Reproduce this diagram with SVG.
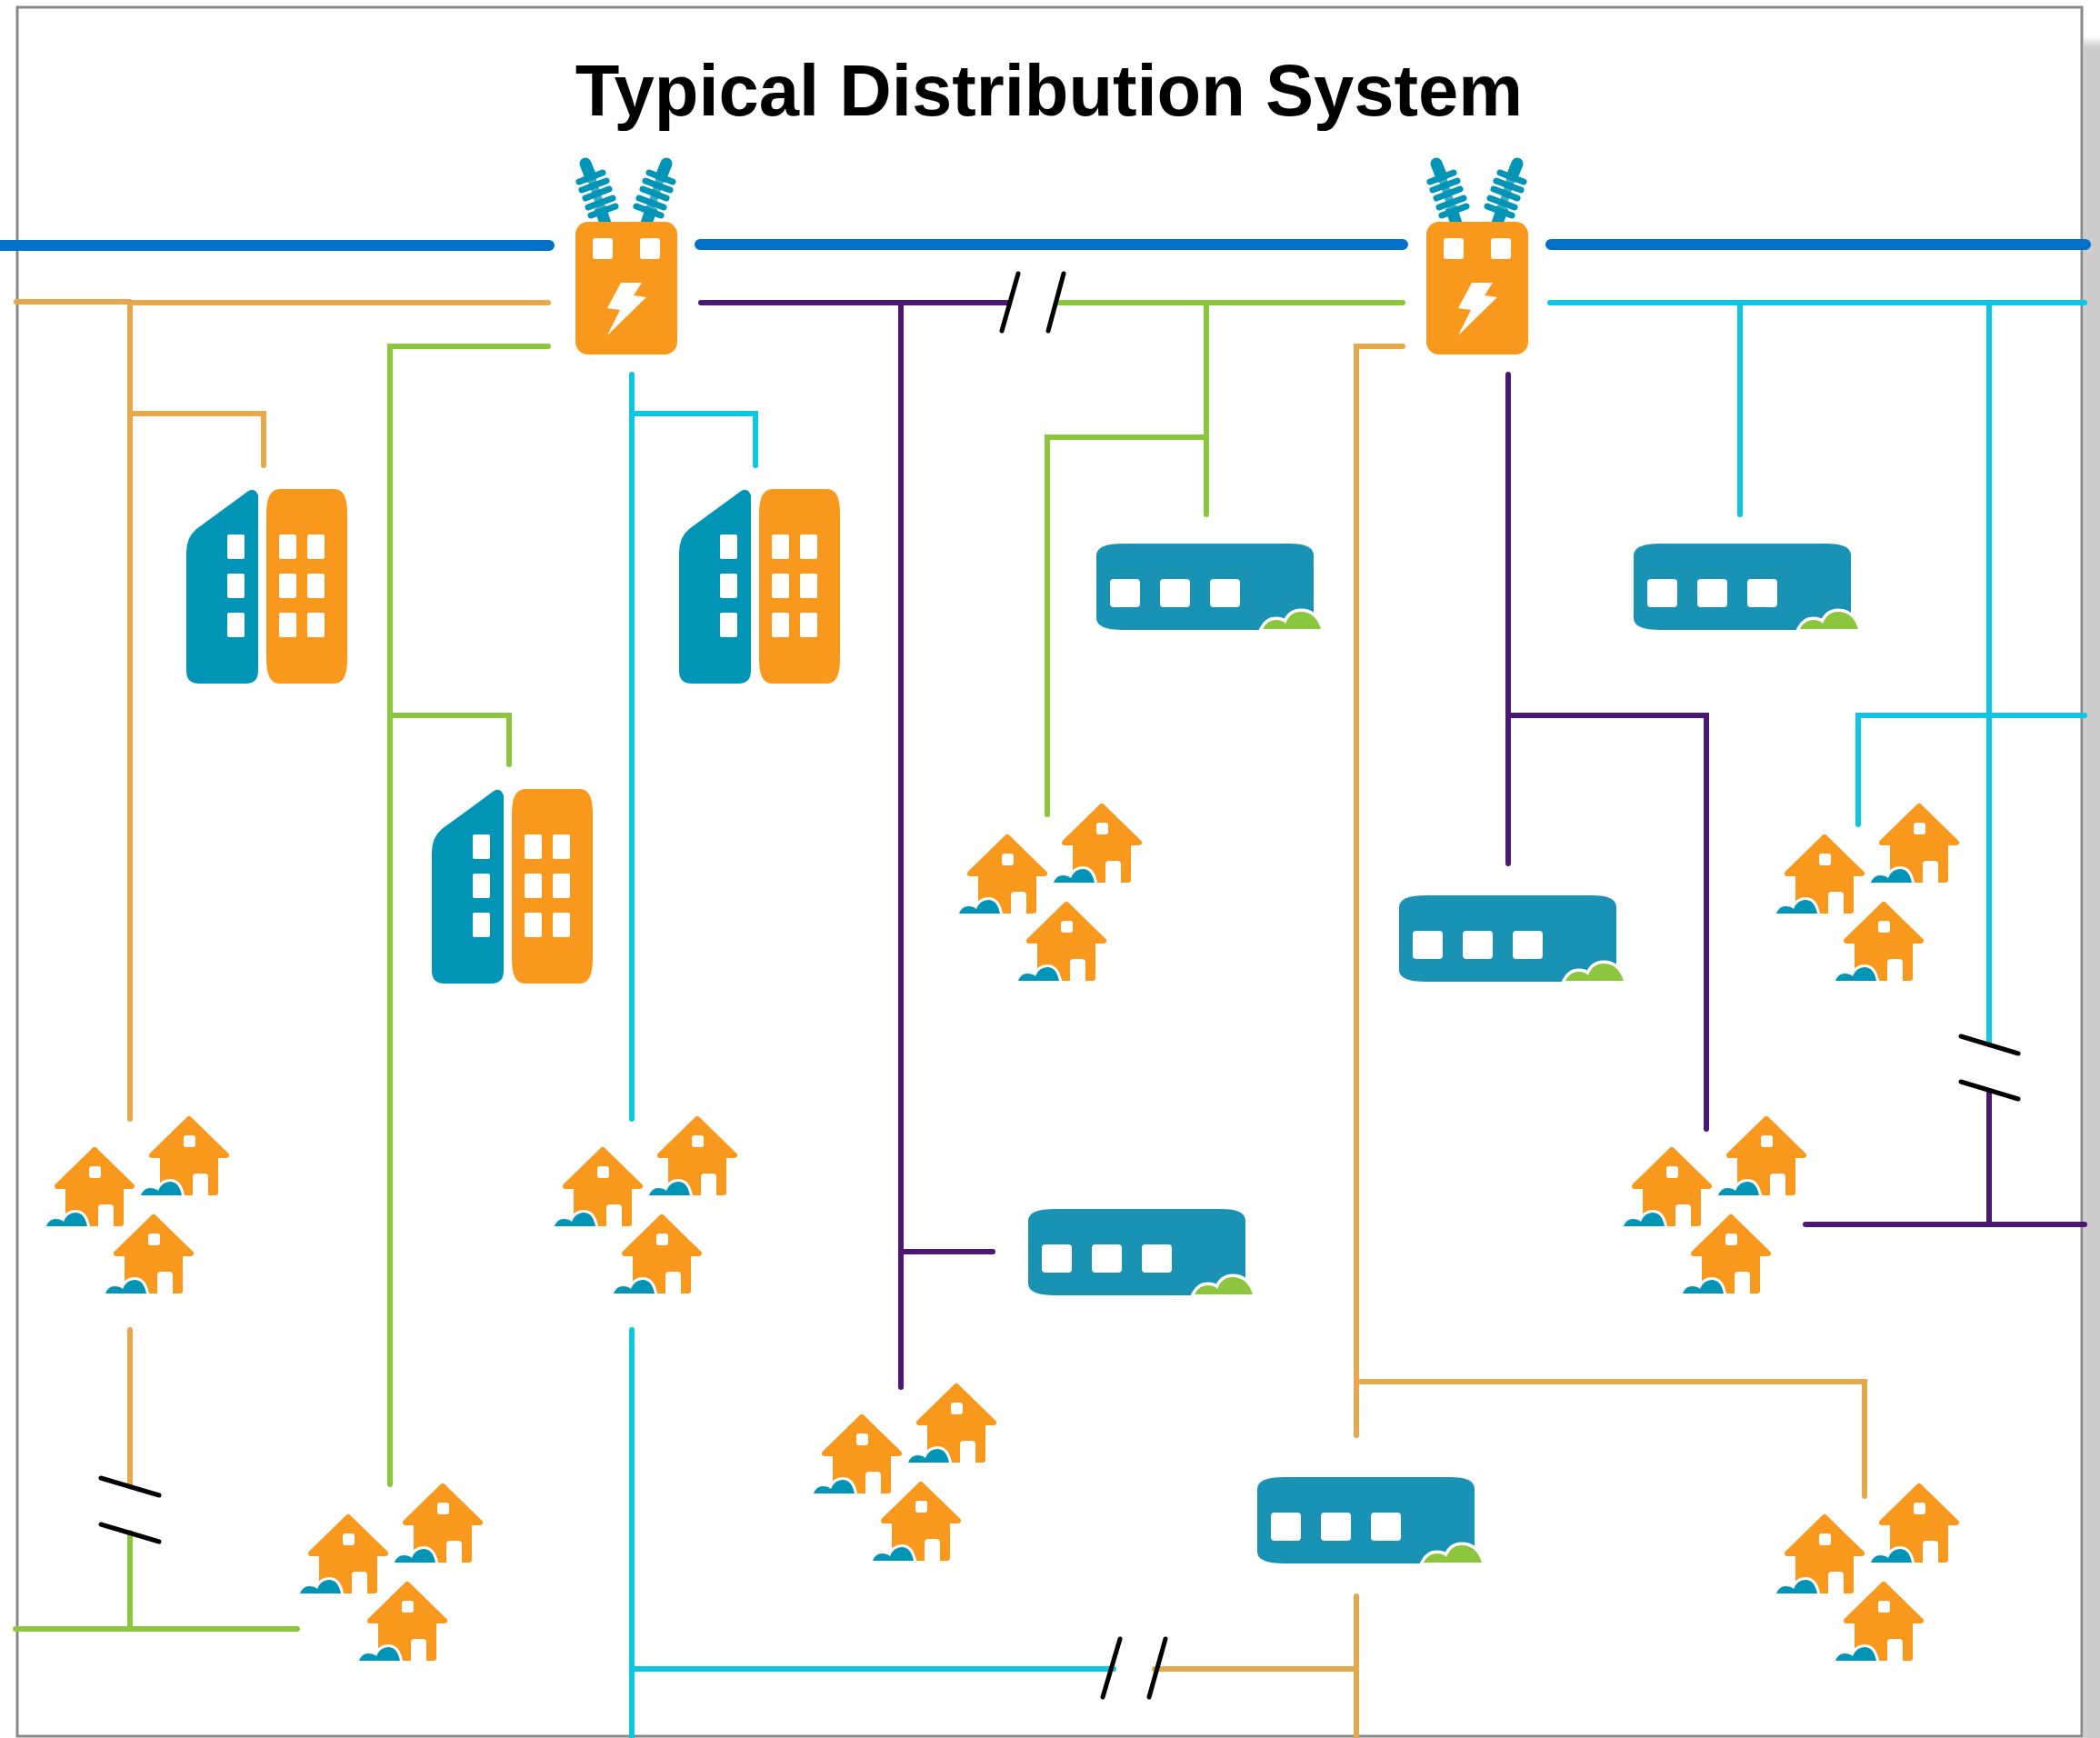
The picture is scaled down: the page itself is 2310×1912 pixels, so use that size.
<svg xmlns="http://www.w3.org/2000/svg" width="2310" height="1912" viewBox="0 0 2310 1912">
<style>
.c{fill:none;stroke-width:6;stroke-linecap:round;stroke-linejoin:miter}
.thick{stroke:#0070c8;stroke-width:12}
.tan{stroke:#e5a84b}.grn{stroke:#8cc63f}.cy{stroke:#0cc6e2}.pur{stroke:#4b1a70}
.brk{stroke:#000;stroke-width:5}
.org{fill:#f8981d}.teal{fill:#0095b6}.tl2{fill:#1a92b3}.w{fill:#fff}
text{font-family:"Liberation Sans",Arial,sans-serif;font-weight:700;font-size:79.6px;fill:#000}
</style>
<defs>
<linearGradient id="sh" x1="0" y1="0" x2="0" y2="1"><stop offset="0" stop-color="#ccc" stop-opacity="0"/><stop offset="1" stop-color="#ccc"/></linearGradient>
<g id="ins">
<path d="M644,180L650,195" stroke="#0095b6" stroke-width="13" stroke-linecap="round" fill="none"/>
<path d="M660,228L666,246" stroke="#0095b6" stroke-width="13" fill="none"/>
<path d="M650,194L662,232" stroke="#3fa9c4" stroke-width="9" fill="none"/>
<path d="M637,200L663,190M640,209L667,199M644,218L670,208M647,228L674,218M650,237L677,227" stroke="#0095b6" stroke-width="7" stroke-linecap="round" fill="none"/>
</g>
<g id="sub">
<use href="#ins"/><use href="#ins" transform="matrix(-1 0 0 1 1377 0)"/>
<rect x="633" y="244" width="112" height="146" rx="14" class="org"/>
<rect x="652" y="262" width="22" height="23" rx="3" class="w"/><rect x="704" y="262" width="22" height="23" rx="3" class="w"/>
<polygon class="w" points="683,311 706,311 697,325 711,327 668,369 682,341 668,339"/>
</g>
<g id="bldg">
<path class="teal" d="M272,541Q280,535 284,545L284,738Q284,752 270,752L219,752Q205,752 205,738L205,608Q205,591 216,582Z"/>
<path class="org" d="M308,538L368,538Q382,538 382,565L382,725Q382,752 368,752L307,752Q293,752 293,725L293,565Q293,538 308,538Z"/>
<g class="w">
<rect x="250" y="588" width="19" height="27" rx="2"/><rect x="250" y="631" width="19" height="27" rx="2"/><rect x="250" y="674" width="19" height="27" rx="2"/>
<rect x="307" y="588" width="19" height="27" rx="2"/><rect x="307" y="631" width="19" height="27" rx="2"/><rect x="307" y="674" width="19" height="27" rx="2"/>
<rect x="338" y="588" width="19" height="27" rx="2"/><rect x="338" y="631" width="19" height="27" rx="2"/><rect x="338" y="674" width="19" height="27" rx="2"/>
</g>
</g>
<g id="com">
<path class="tl2" d="M1206,611Q1206,598 1236,598L1418,598Q1445,598 1445,611L1445,693L1236,693Q1206,693 1206,680Z"/>
<g class="w"><rect x="1221" y="637" width="33" height="31" rx="4"/><rect x="1276" y="637" width="33" height="31" rx="4"/><rect x="1331" y="637" width="33" height="31" rx="4"/></g>
<path d="M1389,692Q1394,682 1403,682Q1411,682 1414,686Q1419,673 1431,673Q1447,673 1453,692Z" fill="#8cc63f" stroke="#fff" stroke-width="7" paint-order="stroke"/>
</g>
<g id="h">
<path class="org" d="M0,3L41,43L29,43L29,84L-29,84L-29,43L-41,43Z" stroke="#f8981d" stroke-width="6" stroke-linejoin="round"/>
<path class="w" d="M4,90L4,67Q4,63 8,63L17,63Q21,63 21,67L21,90Z"/>
<rect class="w" x="-6" y="21" width="13" height="13" rx="3"/>
<path d="M-53,87Q-50,79 -43,79Q-37,79 -34,82Q-30,72 -21,72Q-11,72 -8,87Z" class="teal" stroke="#fff" stroke-width="6" paint-order="stroke"/>
</g>
<g id="hs"><use href="#h"/><use href="#h" x="-104" y="34"/><use href="#h" x="-39" y="108"/></g>
</defs>
<rect width="2310" height="1912" fill="#fff"/>
<rect x="2292" y="40" width="18" height="12" fill="url(#sh)"/><rect x="2292" y="52" width="18" height="1860" fill="#ccc"/>
<rect x="19" y="8" width="2271" height="1902" fill="#fff" stroke="#888" stroke-width="3"/>
<text x="1154" y="127" text-anchor="middle">Typical Distribution System</text>
<g id="connectors">
<path class="c thick" d="M0,270H604M770,269H1543M1706,269H2294"/>
<path class="c tan" d="M18,332H143M143,333H603M143,333V1231M143,455H290V512M143,1463V1635"/>
<path class="c grn" d="M603,381H429V1633M429,787H560V841M143,1686V1792M17,1792H327"/>
<path class="c cy" d="M695,412V1231M695,455H831V512"/>
<path class="c pur" d="M771,333H1110M991,333V1526M991,1377H1092"/>
<path class="c grn" d="M1163,333H1543M1327,333V566M1327,481H1152V896"/>
<path class="c tan" d="M1543,381H1492V1579M1492,1520H2051V1646M1492,1756V1912M1492,1836H1270"/>
<path class="c cy" d="M695,1463V1912M695,1836H1225"/>
<path class="c cy" d="M1705,333H2293M1914,333V566M2188,333V1149M2293,787H2044V907"/>
<path class="c pur" d="M1659,412V950M1659,787H1877V1242M2188,1200V1347M1986,1347H2293"/>
<path class="c brk" d="M1120,301L1102,364M1170,301L1153,364M1232,1803L1213,1867M1282,1803L1264,1867M2157,1140L2220,1159M2157,1190L2220,1209M111,1626L175,1645M111,1677L175,1696"/>
</g>
<g id="substation-1"><use href="#sub"/></g>
<g id="substation-2"><use href="#sub" x="936"/></g>
<g id="building-1"><use href="#bldg"/></g>
<g id="building-2"><use href="#bldg" x="542"/></g>
<g id="building-3"><use href="#bldg" x="270" y="330"/></g>
<g id="commercial-1"><use href="#com"/></g>
<g id="commercial-2"><use href="#com" x="591"/></g>
<g id="commercial-3"><use href="#com" x="333" y="387"/></g>
<g id="commercial-4"><use href="#com" x="-75" y="732"/></g>
<g id="commercial-5"><use href="#com" x="177" y="1027"/></g>
<g id="houses-1"><use href="#hs" x="208" y="1228"/></g>
<g id="houses-2"><use href="#hs" x="767" y="1228"/></g>
<g id="houses-3"><use href="#hs" x="1212" y="884"/></g>
<g id="houses-4"><use href="#hs" x="2111" y="884"/></g>
<g id="houses-5"><use href="#hs" x="1943" y="1228"/></g>
<g id="houses-6"><use href="#hs" x="1052" y="1522"/></g>
<g id="houses-7"><use href="#hs" x="487" y="1632"/></g>
<g id="houses-8"><use href="#hs" x="2111" y="1632"/></g>
</svg>
